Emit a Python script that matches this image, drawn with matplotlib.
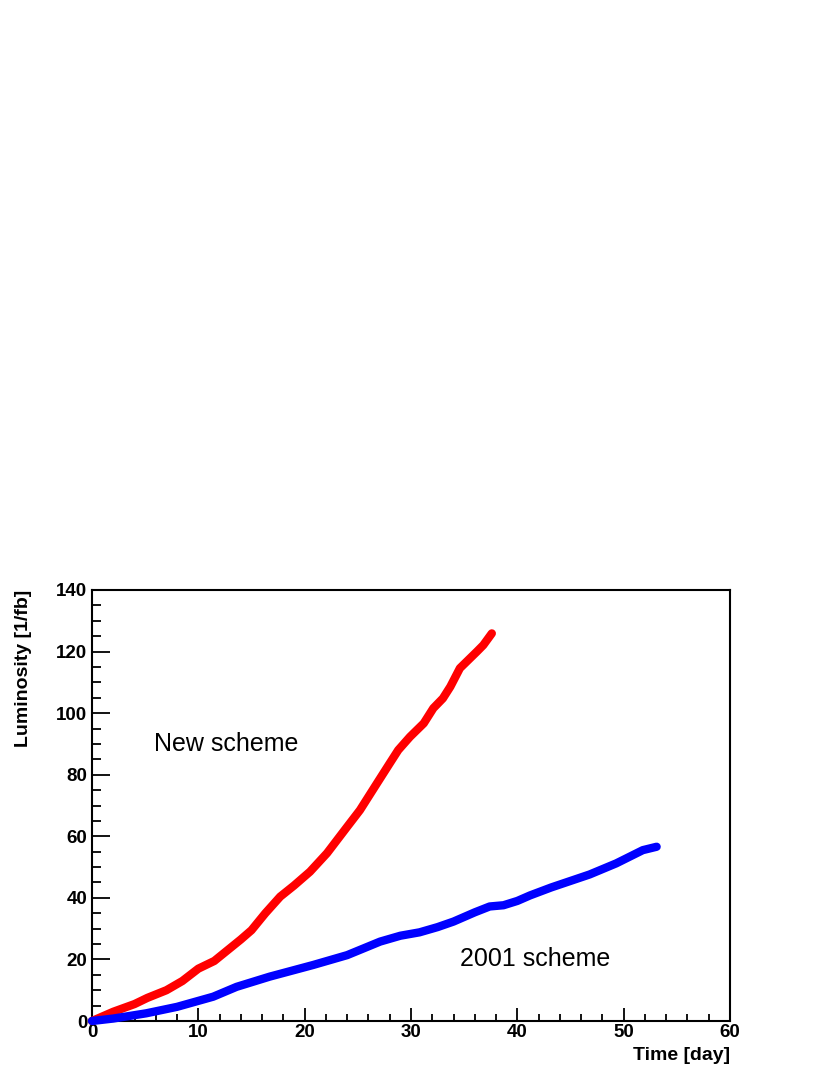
import matplotlib
matplotlib.use("Agg")
import matplotlib.pyplot as plt
from matplotlib.ticker import MultipleLocator

plt.rcParams['font.family'] = ['Liberation Sans', 'DejaVu Sans']

# new scheme (red)
new_day = [0, 2, 4, 5.2, 7, 8.5, 10, 11.5, 13, 14, 15, 16.3, 17.7, 19, 20.5,
           22.1, 24, 25.2, 26.8, 28, 28.8, 29.9, 31.2, 32.1, 33.0, 33.7,
           34.6, 35.4, 36.2, 36.8, 37.6]
new_lumi = [0, 3, 5.5, 7.5, 10, 13, 17, 19.5, 23.7, 26.5, 29.5, 35, 40.4, 44, 48.5,
            54.5, 63.1, 68.5, 77.2, 83.7, 88, 92.3, 96.7, 101.6, 104.8, 108.6,
            114.6, 117.3, 120, 122.1, 125.9]

# 2001 scheme (blue)
old_day = [0, 2, 5.1, 8, 11.4, 13.6, 16.7, 20.8, 24, 27.1, 29, 30.8, 32.5, 34,
           36, 37.4, 38.7, 40, 41.2, 43.2, 46.8, 49.3, 51.8, 53.1]
old_lumi = [0, 0.8, 2.5, 4.6, 7.9, 11.1, 14.4, 18.2, 21.4, 25.8, 27.7, 28.8,
            30.5, 32.3, 35.3, 37.2, 37.6, 39, 40.8, 43.4, 47.6, 51.2, 55.5, 56.6]

fig = plt.figure(figsize=(8.3, 10.75), dpi=100)
ax = fig.add_axes([92 / 830, 1 - 1021 / 1075, (730 - 92) / 830, (1021 - 590) / 1075])

ax.plot(new_day, new_lumi, color='#ff0000', lw=6, solid_capstyle='round',
        solid_joinstyle='round', clip_on=False, zorder=3)
ax.plot(old_day, old_lumi, color='#0000ff', lw=6, solid_capstyle='round',
        solid_joinstyle='round', clip_on=False, zorder=3)

ax.set_xlim(0, 60)
ax.set_ylim(0, 140)
ax.xaxis.set_major_locator(MultipleLocator(10))
ax.xaxis.set_minor_locator(MultipleLocator(2))
ax.yaxis.set_major_locator(MultipleLocator(20))
ax.yaxis.set_minor_locator(MultipleLocator(5))

ax.tick_params(axis='x', which='major', direction='in', length=9.4, width=1.3,
               labelsize=13.5, pad=2.5)
ax.tick_params(axis='x', which='minor', direction='in', length=4.7, width=1.3)
ax.tick_params(axis='y', which='major', direction='in', length=13, width=1.3,
               labelsize=13.5, pad=3.5)
ax.tick_params(axis='y', which='minor', direction='in', length=6.5, width=1.3)
for lab in ax.get_xticklabels() + ax.get_yticklabels():
    lab.set_fontweight('bold')

for sp in ax.spines.values():
    sp.set_linewidth(1.5)

fig.text(730 / 830, 1 - 1056 / 1075, 'Time [day]', ha='right', va='center',
         fontsize=14, fontweight='bold')
fig.text(24 / 830, 1 - 590 / 1075, 'Luminosity [1/fb]', ha='center', va='top',
         rotation=90, fontsize=14, fontweight='bold')

ax.text(5.8, 90, 'New scheme', fontsize=18, va='center', ha='left')
ax.text(34.6, 20, '2001 scheme', fontsize=18, va='center', ha='left')

fig.savefig('out.png', dpi=100)
